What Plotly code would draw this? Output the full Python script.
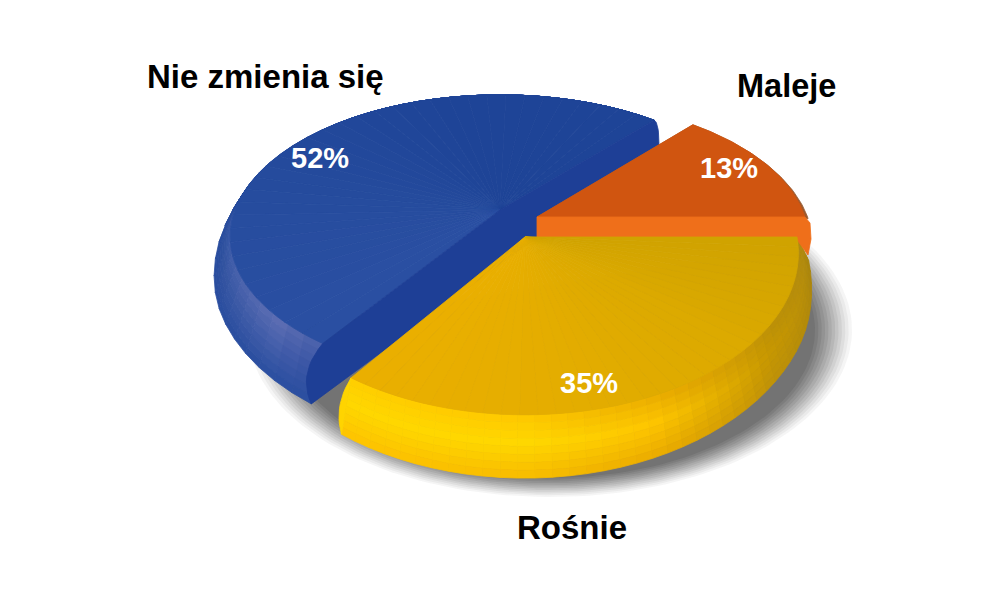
import numpy as np
import plotly.graph_objects as go

categories = ["Maleje", "Nie zmienia się", "Rośnie"]
shares = [13, 52, 35]

W, H = 1000, 600
# geometry of each exploded slice: centre, top radii, perspective, rim
GEO = {
    "Maleje": dict(cx=537, cy=217, rx=268, ry=149, kb=.243, kf=.10, rxo=272, ryo=149, d=2),
    "Nie zmienia się": dict(cx=500, cy=210, rx=265, ry=145, kb=.243, kf=.15, rxo=282, ryo=178, d=30),
    "Rośnie": dict(cx=525, cy=237, rx=272, ry=160, kb=.10, kf=.10, rxo=287, ryo=190, d=30),
}
TOP_STOPS = {
    "Nie zmienia się": [(46, "#1e4497"), (110, "#1f4598"), (180, "#274d9f"), (234, "#2b50a3")],
    "Rośnie": [(234, "#ebb000"), (270, "#e6ae00"), (320, "#dcaa00"), (360, "#d0a300")],
}
SIDE_INNER = {
    "Nie zmienia się": [(46, "#1e4497"), (150, "#27499c"), (190, "#3a5aa8"), (222, "#5f6fb4"), (234, "#4a62ac")],
    "Rośnie": [(234, "#ffcf00"), (270, "#ffc800"), (300, "#e6a800"), (330, "#bb9008"), (360, "#b08a10")],
}
SIDE_MID = {
    "Nie zmienia się": [(46, "#1e4497"), (150, "#264a9c"), (190, "#30529f"), (222, "#4660ac"), (234, "#3a55a5")],
    "Rośnie": [(234, "#ffd800"), (270, "#ffd800"), (295, "#ffc600"), (325, "#c89800"), (360, "#b08a10")],
}
SIDE_OUTER = {
    "Nie zmienia się": [(46, "#1e4497"), (150, "#234698"), (190, "#284c9e"), (222, "#2a4ea0"), (234, "#2a4ea0")],
    "Rośnie": [(234, "#ffc400"), (270, "#f8bb00"), (295, "#eaab00"), (325, "#bf9208"), (360, "#a8840c")],
}
SHADOW_STEPS = 12


def hex2rgb(c):
    return np.array([int(c[i:i + 2], 16) for i in (1, 3, 5)], float)


def stop_rgb(stops, t):
    ts = [s[0] for s in stops]
    rgb = np.array([hex2rgb(s[1]) for s in stops])
    return np.array([np.interp(t, ts, rgb[:, i]) for i in range(3)])


def css(rgb):
    return "rgb(%d,%d,%d)" % tuple(rgb)


def scale(s, g):
    b = (g["kb"] - g["kf"]) / 1.538
    a = g["kf"] + b * 0.809
    return 1 / (1 + a * s + b * s * s)


def top(t, g):
    r = np.radians(t)
    c, s = np.cos(r), np.sin(r)
    k = scale(s, g)
    return np.array([g["cx"] + g["rx"] * c * k, g["cy"] - g["ry"] * s * k])


def outer(t, g):
    r = np.radians(t)
    c, s = np.cos(r), np.sin(r)
    k = scale(s, g)
    p = np.array([g["cx"] + g["rxo"] * c * k, g["cy"] + g["d"] - g["ryo"] * s * k])
    u = min(1.0, max(0.0, (0.9 - s) / 1.3))
    w = u * u * (3 - 2 * u)
    q = top(t, g)
    return q + w * (p - q)


fig = go.Figure()


def poly(pts, color, name):
    pts = np.array(pts)
    x = list(pts[:, 0]) + [pts[0, 0]]
    y = list(pts[:, 1]) + [pts[0, 1]]
    fig.add_trace(go.Scatter(
        x=x, y=y, mode="lines", fill="toself", fillcolor=color, name=name,
        line=dict(color=color, width=0.8), hoverinfo="skip", showlegend=False))


# soft stepped shadow, only below the pie
for i in range(SHADOW_STEPS):
    f = i / (SHADOW_STEPS - 1)
    th = np.radians(np.linspace(-32, 180, 110))
    cx, cy = 550, 330
    rx, ry = 302 - 37 * f, 167 - 19 * f
    fig.add_trace(go.Scatter(
        x=cx + rx * np.cos(th), y=cy + ry * np.sin(th), mode="lines", fill="toself",
        fillcolor="rgba(60,60,60,%.3f)" % (0.05 + 0.09 * f), line=dict(width=0),
        hoverinfo="skip", showlegend=False))

# slice angle ranges follow from the shares
cum = np.cumsum([0] + shares) * 3.6
ANG = {c: (cum[i], cum[i + 1]) for i, c in enumerate(categories)}


def rim(cat, n=40, bands=8):
    g = GEO[cat]
    a0, a1 = ANG[cat]
    ts = np.linspace(a0, a1, n + 1)
    fr = np.linspace(0, 1, bands + 1)
    for j in range(bands):
        m = (fr[j] + fr[j + 1]) / 2
        for i in range(n):
            t0, t1 = ts[i], ts[i + 1]
            tm = (t0 + t1) / 2
            ci, cm, co = stop_rgb(SIDE_INNER[cat], tm), stop_rgb(SIDE_MID[cat], tm), stop_rgb(SIDE_OUTER[cat], tm)
            colr = ci + (cm - ci) * m / .45 if m < .45 else cm + (co - cm) * (m - .45) / .55
            pa, pb = top(t0, g), top(t1, g)
            oa, ob = outer(t0, g), outer(t1, g)
            poly([pa + (oa - pa) * fr[j], pb + (ob - pb) * fr[j],
                  pb + (ob - pb) * fr[j + 1], pa + (oa - pa) * fr[j + 1]], css(colr), cat)


def wedges(cat, n=36):
    g = GEO[cat]
    a0, a1 = ANG[cat]
    ts = np.linspace(a0, a1, n + 1)
    apex = [g["cx"], g["cy"]]
    for i in range(n):
        tm = (ts[i] + ts[i + 1]) / 2
        poly([apex, top(ts[i], g), top(tm, g), top(ts[i + 1], g)], css(stop_rgb(TOP_STOPS[cat], tm)), cat)


def bez(p0, ctrl, p1, n=12):
    return [(1 - v) ** 2 * p0 + 2 * v * (1 - v) * ctrl + v ** 2 * p1 for v in np.linspace(0, 1, n)]


# blue slice
B = "Nie zmienia się"
gb = GEO[B]
rim(B)
wedges(B)
a0, a1 = ANG[B]
ct, cf = top(a0, gb), top(a1, gb)
of = outer(a1, gb)
ctrl = np.array([min(cf[0], of[0]) - 14, (cf[1] + of[1]) / 2])
back_low = ct + np.array([5, 27])
back_ctrl = ct + np.array([5, 2])
poly([[gb["cx"], gb["cy"]], cf] + bez(cf, ctrl, of) + [back_low] + bez(back_low, back_ctrl, ct),
     "#1e3f96", B)

# yellow rim, then orange slice, then yellow top
Y = "Rośnie"
gy = GEO[Y]
rim(Y)
ty, oy = top(ANG[Y][0], gy), outer(ANG[Y][0], gy)
poly(bez(ty, np.array([min(ty[0], oy[0]) - 8, (ty[1] + oy[1]) / 2]), oy), "#ffd400", Y)

O = "Maleje"
go_ = GEO[O]
a0, a1 = ANG[O]
arc = [top(t, go_) for t in np.linspace(a0, a1, 50)]
arc_o = [outer(t, go_) for t in np.linspace(a0, a1, 50)]
poly([[go_["cx"], go_["cy"]]] + arc_o, "#9a5a30", O)
poly([[go_["cx"], go_["cy"]]] + arc, "#d05510", O)
e = arc[0]
poly([[go_["cx"], go_["cy"]], e, e + np.array([5, 6]), e + np.array([6, 22]), e + np.array([3, 38]),
      [e[0] - 10, gy["cy"]], [go_["cx"], gy["cy"]]], "#ef6f1a", O)

wedges(Y)

LABELS = {
    "Maleje": (786, 86, 32.5),
    "Nie zmienia się": (265, 76, 33),
    "Rośnie": (572, 527, 33),
}
PCT = {"Maleje": (729, 168), "Nie zmienia się": (320, 158), "Rośnie": (589, 383)}
for c, v in zip(categories, shares):
    x, y, sz = LABELS[c]
    fig.add_annotation(x=x, y=y, text=f"<b>{c}</b>", showarrow=False,
                       font=dict(family="Liberation Sans", size=sz, color="black"))
    px, py = PCT[c]
    fig.add_annotation(x=px, y=py, text=f"<b>{v}%</b>", showarrow=False,
                       font=dict(family="Liberation Sans", size=29, color="white"))

fig.update_layout(
    width=W, height=H, margin=dict(l=0, r=0, t=0, b=0),
    paper_bgcolor="white", plot_bgcolor="white", showlegend=False,
    xaxis=dict(range=[0, W], visible=False, fixedrange=True),
    yaxis=dict(range=[H, 0], visible=False, fixedrange=True),
)
fig.write_html("out.html", config={"displayModeBar": False},
               post_script="document.body.style.margin='0';")
